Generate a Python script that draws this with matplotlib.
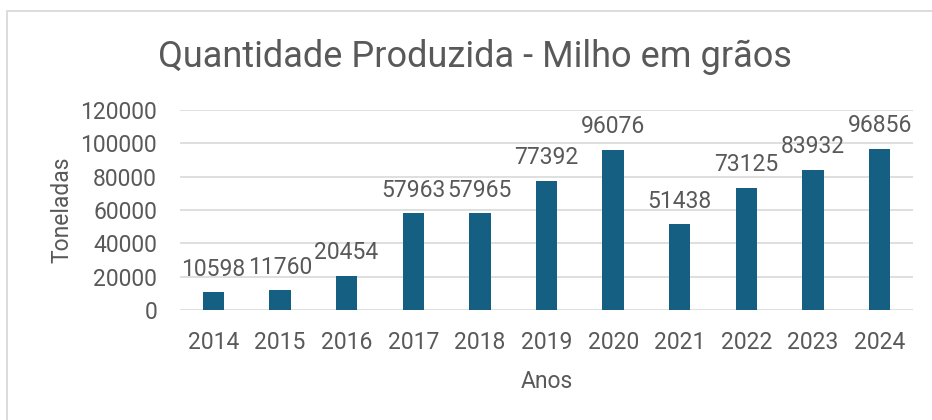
from matplotlib import pyplot as plt
from matplotlib.patches import Rectangle

anos = ["2014", "2015", "2016", "2017", "2018", "2019", "2020", "2021", "2022", "2023", "2024"]
toneladas = [10598, 11760, 20454, 57963, 57965, 77392, 96076, 51438, 73125, 83932, 96856]
y_ticks = [0, 20000, 40000, 60000, 80000, 100000, 120000]

texto = "#595959"
grade = "#D9D9D9"
barra = "#156082"

plt.rcParams['font.family'] = ['Roboto', 'DejaVu Sans']

fig = plt.figure(figsize=(9.32, 4.2), dpi=100)
fig.patches.append(Rectangle((7 / 932, -0.1), 1.2, 1 - 11 / 420 + 0.1, transform=fig.transFigure,
                             fill=False, edgecolor=grade, linewidth=1.3))

ax = fig.add_axes([180 / 932, 1 - 310 / 420, (913 - 180) / 932, 200 / 420])
x = range(len(anos))
ax.bar(x, toneladas, width=0.32, color=barra, zorder=3)
for i, v in enumerate(toneladas):
    ax.text(i, v + 7000, str(v), ha="center", va="bottom", fontsize=16.5, color=texto, zorder=4)

ax.set_xlim(-0.5, len(anos) - 0.5)
ax.set_ylim(0, 120000)
ax.set_yticks(y_ticks)
ax.set_yticklabels([str(t) for t in y_ticks])
ax.set_xticks(list(x))
ax.set_xticklabels(anos)
ax.tick_params(length=0, labelsize=16.5, labelcolor=texto)
ax.tick_params(axis="y", pad=16.5)
ax.tick_params(axis="x", pad=15)
ax.grid(axis="y", color=grade, linewidth=1.2, zorder=0)
for s in ax.spines.values():
    s.set_visible(False)

ax.set_xlabel("Anos", fontsize=16.5, color=texto, labelpad=12)
ax.set_ylabel("Toneladas", fontsize=16.5, color=texto, labelpad=5)
fig.text(475 / 932, 1 - 57 / 420, "Quantidade Produzida - Milho em grãos", ha="center", va="center",
         fontsize=26, color=texto)

fig.savefig("out.png", dpi=100)
